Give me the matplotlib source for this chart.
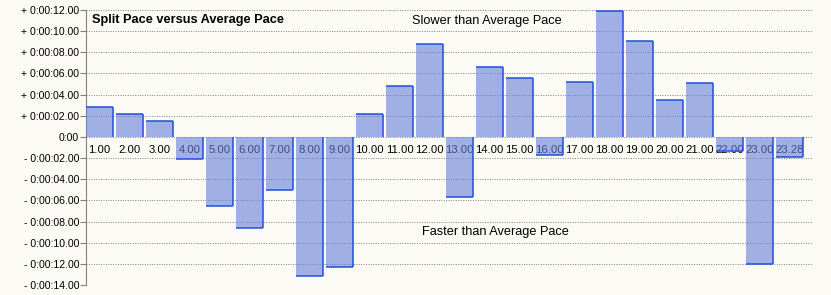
import matplotlib
matplotlib.use("Agg")
import matplotlib.pyplot as plt
from matplotlib import transforms

splits = ["1.00", "2.00", "3.00", "4.00", "5.00", "6.00", "7.00", "8.00", "9.00",
          "10.00", "11.00", "12.00", "13.00", "14.00", "15.00", "16.00", "17.00",
          "18.00", "19.00", "20.00", "21.00", "22.00", "23.00", "23.28"]
diff_seconds = [2.8, 2.2, 1.46, -2.12, -6.52, -8.6, -5.0, -13.16, -12.3,
                2.13, 4.79, 8.8, -5.66, 6.59, 5.55, -1.74, 5.16,
                11.94, 9.06, 3.48, 5.1, -1.3, -12.0, -1.93]
y_ticks = [12, 10, 8, 6, 4, 2, 0, -2, -4, -6, -8, -10, -12, -14]

def fmt(v):
    if v == 0:
        return "0:00"
    sign = "+" if v > 0 else "-"
    return f"{sign} 0:00:{abs(v):02d}.00"

plt.rcParams['font.family'] = ['Liberation Sans', 'DejaVu Sans']
bg = "#fbfaf5"
fig = plt.figure(figsize=(8.31, 2.95), dpi=100, facecolor=bg)
ax = fig.add_axes([86/831, 1 - 285/295, (812-86)/831, 275/295])
ax.set_facecolor(bg)

width = 0.9
xs = list(range(len(splits)))
ax.bar(xs, diff_seconds, width=width, align='edge', color="#6480d9", alpha=0.6,
       linewidth=0, zorder=3)
edge = "#1f4fe0"
ax.vlines([x + width for x in xs], 0, diff_seconds, colors=edge, linewidth=1.1, zorder=4)
ax.hlines(diff_seconds, xs, [x + width for x in xs], colors=edge, linewidth=1.1, zorder=4)

ax.set_xlim(0, 24.2)
ax.set_ylim(-14, 12)
ax.set_yticks(y_ticks)
ax.set_yticklabels([fmt(v) for v in y_ticks], fontsize=7.6)
ax.set_xticks([])
ax.yaxis.grid(True, linestyle=(0, (1, 1.5)), color="#808080", linewidth=0.7, zorder=5)
ax.set_axisbelow(False)
for s in ["top", "right", "bottom"]:
    ax.spines[s].set_visible(False)
ax.spines["left"].set_color("#808080")
ax.tick_params(axis='y', length=4, color="#808080", pad=1)

off = transforms.offset_copy(ax.transData, fig=fig, x=0, y=-13, units='dots')
for x, lab in zip(xs, splits):
    ax.text(x + width / 2, 0, lab, transform=off, ha='center', va='center',
            fontsize=8.1, color='black', zorder=2)

ax.text(6/726, 12 - 10/10.58, "Split Pace versus Average Pace",
        transform=transforms.blended_transform_factory(ax.transAxes, ax.transData),
        fontsize=9.2, fontweight='bold', ha='left', va='center', zorder=6)
ax.text(401/30, 12 - 11/10.58, "Slower than Average Pace", fontsize=9.2, ha='center', va='center', zorder=6)
ax.text(409/30, 12 - 222/10.58, "Faster than Average Pace", fontsize=9.2, ha='center', va='center', zorder=6)

fig.savefig("out.png", dpi=100, facecolor=bg)
